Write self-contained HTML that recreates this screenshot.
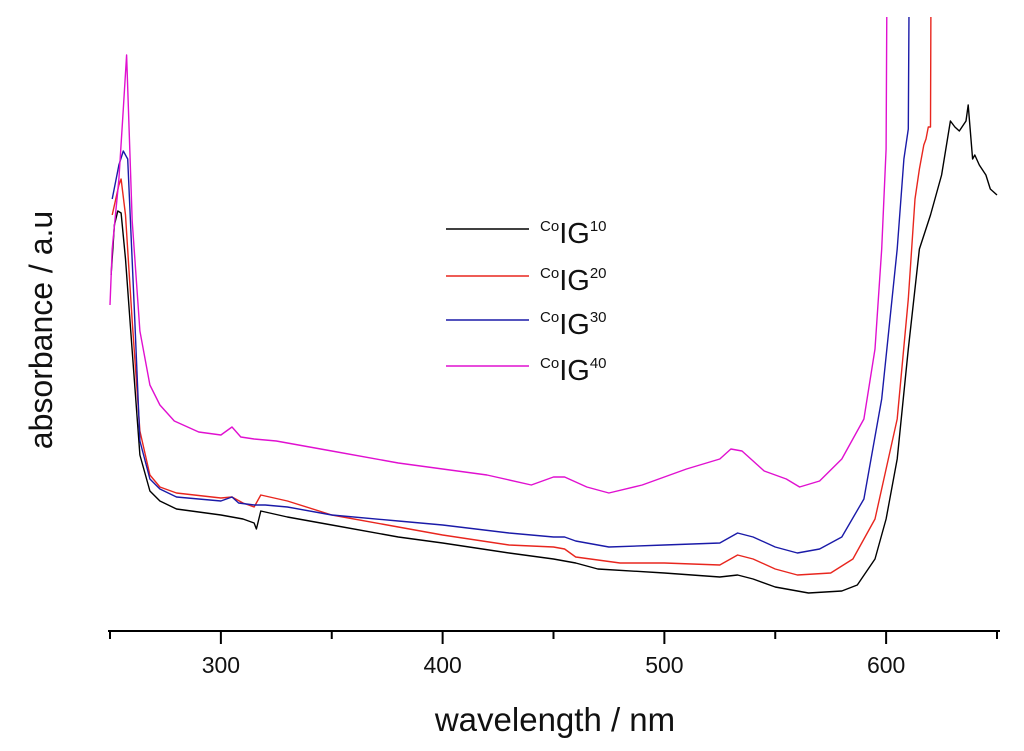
<!DOCTYPE html>
<html><head><meta charset="utf-8"><style>
html,body{margin:0;padding:0;background:#fff;}
svg{display:block;font-family:"Liberation Sans",Arial,sans-serif;}
</style></head><body>
<svg id="chart" width="1024" height="751" viewBox="0 0 1024 751" xmlns="http://www.w3.org/2000/svg">
<defs><clipPath id="plotclip"><rect x="100" y="17" width="924" height="614"/></clipPath></defs>
<g id="axes"></g>
<g id="series" clip-path="url(#plotclip)"></g>
<g id="legend"></g>
<text x="555" y="731" font-size="33" text-anchor="middle" fill="#111">wavelength / nm</text>
<text transform="translate(52,330) rotate(-90)" font-size="32" text-anchor="middle" fill="#111">absorbance / a.u</text>
</svg>
<script>
const ticks = [300, 400, 500, 600];
const minorTicks = [250, 350, 450, 550, 650];
const seriesNames = ["CoIG10", "CoIG20", "CoIG30", "CoIG40"];
const seriesSup = ["10", "20", "30", "40"];
const seriesColors = ["#000000", "#e8261e", "#1a1aa8", "#e010d0"];
// values in absorbance units (arbitrary)
const wlBlack = [250.5,252,253.5,255,257,260,263.5,268,272.5,280,300,310,315,316,318,330,350,380,400,430,450,460,470,500,525,533,540,550,565,580,587,595,600,605,610,615,620,625,629,631,633,636,637,639,640,642,645,647,650];
const absBlack = [1.78,2.03,2.10,2.09,1.86,1.40,0.88,0.70,0.65,0.61,0.58,0.56,0.54,0.51,0.60,0.57,0.53,0.47,0.44,0.39,0.36,0.34,0.31,0.29,0.27,0.28,0.26,0.22,0.19,0.20,0.23,0.36,0.56,0.86,1.41,1.91,2.08,2.28,2.55,2.52,2.50,2.55,2.63,2.36,2.38,2.33,2.28,2.21,2.18];
const wlRed = [251,254,255,257,260,263.5,268,272.5,280,300,305,310,315,318,330,350,380,400,430,450,455,460,480,500,525,533,540,550,560,575,585,595,605,610,613,615,617,618,619,620,620.2];
const absRed = [2.08,2.23,2.26,2.08,1.55,1.00,0.78,0.72,0.69,0.665,0.67,0.64,0.62,0.68,0.65,0.58,0.52,0.48,0.43,0.42,0.41,0.37,0.34,0.34,0.33,0.38,0.36,0.31,0.28,0.29,0.36,0.56,1.06,1.66,2.16,2.31,2.43,2.46,2.52,2.52,3.1];
const wlBlue = [251,254,256,258,261,263.5,268,272.5,280,300,305,308,315,320,330,350,380,400,430,450,455,460,475,500,525,533,540,550,560,570,580,590,598,605,608,610,610.3];
const absBlue = [2.16,2.33,2.40,2.36,1.60,0.95,0.76,0.71,0.67,0.65,0.67,0.64,0.63,0.63,0.62,0.58,0.55,0.53,0.49,0.47,0.47,0.45,0.42,0.43,0.44,0.49,0.47,0.42,0.39,0.41,0.47,0.66,1.16,1.91,2.36,2.51,3.1];
const wlMag = [250,251,254,256,257.5,260,263.5,268,272.5,279,290,300,305,309,315,325,350,380,400,420,440,445,450,455,465,475,490,510,525,530,535,545,555,561,570,580,590,595,598,600,600.3];
const absMag = [1.63,1.91,2.26,2.61,2.88,2.05,1.50,1.23,1.13,1.05,0.995,0.98,1.02,0.97,0.96,0.95,0.90,0.84,0.81,0.78,0.73,0.75,0.77,0.77,0.72,0.69,0.73,0.81,0.86,0.91,0.90,0.80,0.76,0.72,0.75,0.86,1.06,1.41,1.91,2.41,3.1];

const NS = "http://www.w3.org/2000/svg";
const xs = nm => 110 + (nm - 250) * 2.2175;
const ys = v => 631 - v * 200;

const axes = document.getElementById("axes");
const axisLine = document.createElementNS(NS, "line");


axisLine.setAttribute("x1", 108); axisLine.setAttribute("x2", 1000);
axisLine.setAttribute("y1", 631); axisLine.setAttribute("y2", 631);
axisLine.setAttribute("stroke", "#000"); axisLine.setAttribute("stroke-width", "2");
axes.appendChild(axisLine);
ticks.forEach(t => {
  const l = document.createElementNS(NS, "line");
  
  
  l.setAttribute("x1", xs(t)); l.setAttribute("x2", xs(t));
  l.setAttribute("y1", 631); l.setAttribute("y2", 644);
  l.setAttribute("stroke", "#000"); l.setAttribute("stroke-width", "2");
  axes.appendChild(l);
  const tx = document.createElementNS(NS, "text");
  
  
  tx.setAttribute("x", xs(t)); tx.setAttribute("y", 673);
  tx.setAttribute("font-size", "23"); tx.setAttribute("text-anchor", "middle");
  tx.setAttribute("fill", "#111");
  tx.textContent = t;
  axes.appendChild(tx);
});
minorTicks.forEach(t => {
  const l = document.createElementNS(NS, "line");
  
  
  l.setAttribute("x1", xs(t)); l.setAttribute("x2", xs(t));
  l.setAttribute("y1", 631); l.setAttribute("y2", 639);
  l.setAttribute("stroke", "#000"); l.setAttribute("stroke-width", "2");
  axes.appendChild(l);
});

const sg = document.getElementById("series");
const allWl = [wlBlack, wlRed, wlBlue, wlMag];
const allAbs = [absBlack, absRed, absBlue, absMag];
allWl.forEach((wl, i) => {
  const p = document.createElementNS(NS, "path");
  
  
  p.setAttribute("d", wl.map((w, k) => (k ? "L" : "M") + xs(w).toFixed(1) + "," + ys(allAbs[i][k]).toFixed(1)).join(""));
  p.setAttribute("fill", "none");
  p.setAttribute("stroke", seriesColors[i]);
  p.setAttribute("stroke-width", "1.4");
  p.setAttribute("stroke-linejoin", "round");
  sg.appendChild(p);
});

const lg = document.getElementById("legend");
const legY = [229, 276, 320, 366];
seriesNames.forEach((n, i) => {
  const l = document.createElementNS(NS, "line");
  
  
  l.setAttribute("x1", 446); l.setAttribute("x2", 529);
  l.setAttribute("y1", legY[i]); l.setAttribute("y2", legY[i]);
  l.setAttribute("stroke", seriesColors[i]); l.setAttribute("stroke-width", "1.4");
  lg.appendChild(l);
  const t = document.createElementNS(NS, "text");
  
  
  t.setAttribute("x", 540); t.setAttribute("y", legY[i] + 14);
  t.setAttribute("fill", "#111");
  t.innerHTML = '<tspan font-size="15" dy="-12">Co</tspan><tspan font-size="29" dy="12">IG</tspan><tspan font-size="15" dy="-12">' + seriesSup[i] + '</tspan>';
  lg.appendChild(t);
});
</script>
</body></html>
